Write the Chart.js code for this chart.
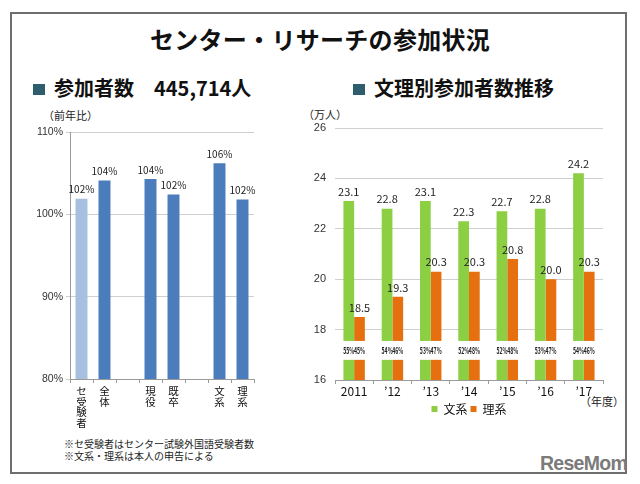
<!DOCTYPE html>
<html lang="ja">
<head>
<meta charset="UTF-8">
<title>センター・リサーチの参加状況</title>
<script src="https://cdn.jsdelivr.net/npm/chart.js"></script>
<style>
    html, body { margin: 0; padding: 0; background: #fff; }
    body {
        width: 640px; height: 484px; position: relative; overflow: hidden;
        font-family: "Noto Sans CJK JP", "Noto Sans", sans-serif; color: #111;
    }
    .frame {
        position: absolute; left: 10px; top: 12px; width: 617px; height: 462px;
        border: 2px solid #6e6e6e; box-sizing: border-box;
    }
    .title {
        position: absolute; top: 22px; left: 0; width: 640px; text-align: center;
        font-size: 24px; font-weight: bold; line-height: 34px; letter-spacing: 0.3px;
    }
    .sub { position: absolute; top: 74px; font-size: 20px; font-weight: bold; line-height: 28px; white-space: nowrap; }
    .sub i { display: inline-block; width: 12px; height: 11px; background: #2e5d6d; margin-right: 9px; vertical-align: 1px; }
    .note { position: absolute; font-size: 10px; line-height: 12px; color: #222; white-space: nowrap; }
    .logo {
        position: absolute; left: 540px; top: 451px; font-family: "Liberation Sans", sans-serif;
        font-size: 21px; font-weight: bold; color: #7b7b7b; letter-spacing: -0.8px; line-height: 24px;
        transform: scaleX(0.93); transform-origin: left top;
    }
    canvas { position: absolute; }
</style>
</head>
<body>
<div class="frame"></div>
<div class="title">センター・リサーチの参加状況</div>
<div class="sub" style="left:33px"><i></i>参加者数　445,714人</div>
<div class="sub" style="left:353px"><i></i>文理別参加者数推移</div>

<div class="note" style="left:43px; top:109px; font-size:11px;">（前年比）</div>
<div class="note" style="left:303px; top:108px; font-size:11px;">（万人）</div>
<div class="note" style="left:580px; top:395px; font-size:11px;">（年度）</div>
<div class="note" style="left:64px; top:438px;">※セ受験者はセンター試験外国語受験者数</div>
<div class="note" style="left:64px; top:450px;">※文系・理系は本人の申告による</div>
<div class="logo">ReseMom</div>

<canvas id="leftChart" width="250" height="340" style="left:20px; top:100px;"></canvas>
<canvas id="rightChart" width="330" height="325" style="left:300px; top:100px;"></canvas>

<script>
// left chart: year-on-year ratio (%), empty slots are gaps between groups
const ratioLabels = ['セ受験者', '全体', '', '現役', '既卒', '', '文系', '理系'];
const ratioValues = [101.9, 104.1, null, 104.3, 102.4, null, 106.2, 101.8];
const ratioTicks = [80, 90, 100, 110];

// right chart: participants (10k people) by course
const years = ['2011', '’12', '’13', '’14', '’15', '’16', '’17'];
const bunkei = [23.1, 22.8, 23.1, 22.3, 22.7, 22.8, 24.2];
const rikei = [18.5, 19.3, 20.3, 20.3, 20.8, 20.0, 20.3];
const bunkeiPct = [55, 54, 53, 52, 52, 53, 54];
const rikeiPct = [45, 46, 47, 48, 48, 47, 46];
const countTicks = [16, 18, 20, 22, 24, 26];

const FONT = '"Noto Sans CJK JP", "Noto Sans", sans-serif';

// draws the value above each bar
const valueLabels = {
    id: 'valueLabels',
    afterDatasetsDraw(chart, args, opts) {
        const ctx = chart.ctx;
        ctx.save();
        ctx.font = opts.font || ('11px ' + FONT);
        ctx.fillStyle = '#222';
        ctx.textAlign = 'center';
        ctx.textBaseline = 'bottom';
        chart.data.datasets.forEach((ds, i) => {
            chart.getDatasetMeta(i).data.forEach((bar, j) => {
                const v = ds.data[j];
                if (v == null) return;
                ctx.fillText(opts.format(v), bar.x, bar.y - 4);
            });
        });
        ctx.restore();
    }
};

// axis break band on the right chart with the share percentages inside
const breakBand = {
    id: 'breakBand',
    afterDatasetsDraw(chart, args, opts) {
        if (!opts.from) return;
        const ctx = chart.ctx, y = chart.scales.y, area = chart.chartArea;
        const top = y.getPixelForValue(opts.to), bottom = y.getPixelForValue(opts.from);
        ctx.save();
        ctx.fillStyle = '#fff';
        ctx.fillRect(area.left, top, area.right - area.left, bottom - top);
        ctx.font = 'bold 9px ' + FONT;
        ctx.fillStyle = '#222';
        ctx.textAlign = 'center';
        ctx.textBaseline = 'middle';
        const mid = (top + bottom) / 2;
        opts.pcts.forEach((arr, i) => {
            chart.getDatasetMeta(i).data.forEach((bar, j) => {
                ctx.fillText(arr[j] + '%', bar.x, mid, 11);
            });
        });
        ctx.restore();
    }
};

new Chart(document.getElementById('leftChart'), {
    type: 'bar',
    data: {
        labels: ratioLabels.map(l => l.split('')),
        datasets: [{
            data: ratioValues,
            backgroundColor: ratioValues.map((v, i) => i === 0 ? '#a8c0e0' : '#4b7dbc'),
            categoryPercentage: 0.52,
            barPercentage: 1
        }]
    },
    options: {
        responsive: false,
        animation: false,
        layout: { padding: { top: 32, right: 16, left: 0, bottom: 0 } },
        plugins: {
            legend: { display: false },
            tooltip: { enabled: false },
            valueLabels: { format: v => Math.round(v) + '%', font: '10px ' + FONT }
        },
        scales: {
            x: {
                grid: { display: true, drawOnChartArea: false, tickLength: 4, color: '#9a9a9a' },
                border: { color: '#9a9a9a' },
                ticks: { color: '#111', font: { family: FONT, size: 10.5, lineHeight: 1.0 }, padding: 3, autoSkip: false, maxRotation: 0 },
                afterFit: s => { s.height = 61; }
            },
            y: {
                min: 80, max: 110,
                afterBuildTicks: s => { s.ticks = ratioTicks.map(v => ({ value: v })); },
                grid: { color: '#cfcfcf', tickLength: 4 },
                border: { color: '#9a9a9a' },
                ticks: { color: '#333', font: { family: 'Liberation Sans', size: 10.5 }, padding: 3, callback: v => v + '%' },
                afterFit: s => { s.width = 50; }
            }
        }
    },
    plugins: [valueLabels]
});

new Chart(document.getElementById('rightChart'), {
    type: 'bar',
    data: {
        labels: years,
        datasets: [
            { label: '文系', data: bunkei, backgroundColor: '#8ccf43', categoryPercentage: 0.56, barPercentage: 1 },
            { label: '理系', data: rikei, backgroundColor: '#e6700f', categoryPercentage: 0.56, barPercentage: 1 }
        ]
    },
    options: {
        responsive: false,
        animation: false,
        layout: { padding: { top: 28, right: 27, left: 0, bottom: 0 } },
        plugins: {
            legend: {
                position: 'bottom',
                fullSize: false,
                labels: {
                    usePointStyle: true, pointStyle: 'rect', boxWidth: 6, boxHeight: 6,
                    color: '#111', font: { family: FONT, size: 12 }, padding: 3
                }
            },
            tooltip: { enabled: false },
            valueLabels: { format: v => v.toFixed(1), font: '11px ' + FONT },
            breakBand: { from: 16.8, to: 17.55, pcts: [bunkeiPct, rikeiPct] }
        },
        scales: {
            x: {
                grid: { display: true, drawOnChartArea: false, tickLength: 4, color: '#9a9a9a' },
                border: { color: '#9a9a9a' },
                ticks: { color: '#111', font: { family: FONT, size: 12 }, padding: 0 },
                afterFit: s => { s.height = 20; }
            },
            y: {
                min: 16, max: 26,
                afterBuildTicks: s => { s.ticks = countTicks.map(v => ({ value: v })); },
                grid: { color: '#cfcfcf', tickLength: 0 },
                border: { display: false },
                ticks: { color: '#333', font: { family: 'Liberation Sans', size: 11 }, padding: 9 },
                afterFit: s => { s.width = 35; }
            }
        }
    },
    plugins: [valueLabels, breakBand]
});
</script>
</body>
</html>
